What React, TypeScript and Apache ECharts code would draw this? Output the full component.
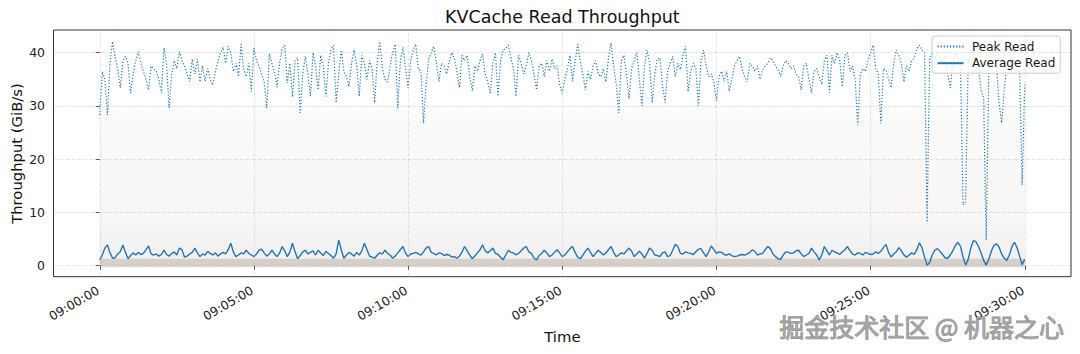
import React, { useEffect, useRef } from "react";
import * as echarts from "echarts";

// ---------------- data ----------------
const START_CLOCK = "09:00:00";
const SAMPLE_STEP_S = 5;

const peakRead = [
  28.3, 36.4, 35, 28.3, 38, 42.1, 39, 37, 33.4, 38.5,
  39.3, 38, 32.4, 36, 38.5, 40.2, 38, 36.5, 35, 33,
  37.5, 37, 36.5, 35, 32.4, 40.9, 38, 29.6, 36, 38.5,
  37, 40.2, 38.5, 37.5, 36, 34.6, 38.8, 36, 38.8, 34.5,
  37.5, 34.6, 37, 35, 33.9, 36.5, 38.5, 40, 41, 38,
  41.2, 40, 36.5, 38, 35.5, 41.6, 37, 35.5, 38, 32.7,
  40.9, 38.5, 37.5, 36, 34.5, 29.6, 39.8, 38, 36.5, 33.5,
  38, 40.8,
  41.4, 34.3, 38, 31.7, 38.5, 39, 28.7, 36, 39.3, 36,
  31.8, 40, 37.5, 33, 39.5, 37.5, 31.8, 38, 40.5, 41.4,
  30.6, 36, 40.5, 36.5, 35.5, 33.6, 38, 40.5, 37.5, 31.8,
  39.5, 38, 35, 38.5, 37, 30.6, 38.5, 42.1, 37, 35,
  34.5, 37.5, 40, 41.6, 29.6, 38.5, 41, 37, 33.4, 38.5,
  40.5, 41.6, 37, 36.5, 26.8, 34, 38.8, 40, 41.2, 38,
  34.6, 38, 37.5, 36, 38.2, 40, 39, 36.5, 33.4, 39.5,
  38.5,
  39.5, 35.5, 32.8, 37.5, 36.5, 38.5, 39.8, 36, 34.5, 32.4,
  38, 40, 31.8, 38.5, 40.5, 40.8, 41.4, 39, 37, 31.8,
  39.5, 38, 36, 37.5, 40, 38.5, 36, 33, 37.5, 38,
  35.5, 38.5, 36.5, 38.8, 37, 37.5, 34, 32.4, 35, 37,
  39.5, 34.6, 38.5, 41.6, 38.5, 36, 33, 36.5, 35, 37.5,
  38.5, 36, 35.5, 37, 34.5, 39, 41.8, 37.5, 34, 28.7,
  38.5, 39.5, 36, 31.4, 37, 38.5, 40, 35, 30, 37.5,
  40.5, 38, 30.6,
  36, 38.8, 39, 34, 30.6, 36.5, 38, 39.3, 35.5, 38,
  36.8, 39.5, 41.2, 32.7, 36.5, 38, 37, 30, 38.5, 40.5,
  37.5, 35.5, 36, 34.5, 31, 35.5, 36.5, 34.6, 36.5, 32.8,
  35, 37.5, 38.5, 39.3, 37, 35.5, 34.5, 38, 37.5, 36.5,
  37.5, 35, 36.8, 37.5, 38, 39, 38.5, 37.5, 36.8, 35.5,
  37.5, 38.5, 38, 37, 37.5, 36, 35.5, 33, 37.5, 38,
  35, 32.5, 36.5, 37, 35.5, 34, 38.5, 39.5, 32.5, 39.5,
  38,
  40, 38.5, 33.6, 39.5, 40, 36.5, 37.5, 35, 26.4, 36,
  37, 36.5, 38.5, 40, 41.4, 37, 36, 26.7, 37, 36.8,
  35, 33.4, 38, 40.5, 39.5, 38, 34.5, 37.5, 36.5, 38.5,
  39, 40.8, 41.4, 40.5, 40, 8.2, 39, 40, 38.5, 40,
  39, 38, 39.5, 36, 33.4, 38, 40, 39, 37.5, 11.4,
  12, 38.5, 40.5, 39.5, 38, 37, 33, 31.5, 4.8, 37,
  38.5, 39, 37.5, 30.6, 26.8, 33, 37.5, 38.5, 39, 38,
  37, 36.5, 15.2, 34,
];

const averageRead = [
  1.1, 2.0, 3.3, 3.9, 2.4, 1.4, 1.5, 2.2, 2.6, 3.9,
  2.5, 1.3, 1.9, 2.4, 2.0, 2.5, 2.1, 2.3, 3.0, 3.7,
  2.2, 2.0, 2.2, 1.8, 2.1, 2.9, 2.1, 1.8, 2.3, 2.6,
  2.0, 3.3, 3.0, 1.6, 1.8, 2.2, 2.5, 3.3, 2.4, 1.7,
  2.2, 2.0, 2.7, 2.3, 2.0, 2.4, 1.8, 2.2, 2.5, 2.2,
  3.0, 4.2, 2.6, 1.7, 2.0, 2.4, 2.2, 2.9, 2.3, 2.0,
  1.7, 2.2, 2.9, 3.1, 2.4, 1.8, 2.2, 2.9, 2.2, 1.7,
  2.4, 3.6, 2.8, 1.7, 2.6, 4.2, 2.6, 1.3, 1.9, 2.6,
  2.9, 2.2, 2.5, 2.8, 2.0, 2.9, 2.4, 1.9, 2.7, 2.3,
  1.9, 1.4, 2.2, 4.8, 3.0, 1.4, 2.0, 2.5, 2.2, 1.8,
  2.5, 2.0, 2.8, 4.2, 3.0, 1.8, 1.6, 1.4, 2.0, 2.4,
  2.2, 2.9, 2.3, 2.0, 1.4, 1.8, 2.4, 3.0, 3.6, 2.4,
  1.7, 2.2, 2.3, 2.5, 2.2, 2.0, 2.6, 3.3, 3.6, 2.5,
  2.3, 2.0, 2.4, 2.3, 1.9, 2.1, 2.0, 1.6, 1.7, 1.4,
  1.8, 2.6, 3.6, 2.8, 2.0, 1.3, 1.8, 2.4, 3.0, 3.9,
  2.8, 2.4, 2.8, 3.3, 2.3, 2.1, 1.6, 1.1, 2.0, 2.9,
  2.5, 2.4, 2.0, 2.3, 2.8, 3.3, 3.6, 2.6, 2.3, 1.4,
  1.1, 1.9, 2.3, 2.9, 2.4, 1.7, 2.0, 2.5, 3.0, 2.4,
  1.7, 2.0, 2.6, 3.2, 3.6, 2.5, 1.6, 1.3, 2.0, 2.7,
  3.3, 2.5, 1.7, 2.3, 2.9, 2.5, 2.0, 2.4, 3.0, 3.6,
  2.5, 1.7, 2.0, 2.4, 2.2, 2.8, 3.3, 2.7, 1.7, 2.2,
  2.7, 2.2, 1.4, 2.3, 3.3, 2.9, 2.0, 1.9, 1.7, 2.4,
  2.6, 1.7, 1.9, 2.9, 4.0, 3.6, 2.3, 2.2, 2.6, 2.4,
  2.3, 2.1, 2.6, 3.1, 3.2, 2.4, 1.7, 2.6, 3.7, 3.0,
  2.3, 2.6, 2.5, 2.1, 2.0, 2.2, 1.9, 1.7, 1.8, 2.0,
  2.1, 2.0, 2.2, 2.5, 3.0, 2.6, 2.0, 2.2, 2.3, 3.0,
  3.6, 3.2, 2.2, 1.7, 1.3, 1.2, 2.0, 2.6, 2.5, 2.3,
  2.4, 2.8, 2.9, 2.2, 1.7, 2.0, 2.3, 3.3, 2.6, 2.0,
  1.1, 2.0, 3.6, 2.8, 2.0, 2.9, 2.6, 2.4, 2.1, 2.6,
  3.0, 3.6, 2.8, 2.2, 2.0, 2.4, 2.3, 2.0, 2.5, 2.3,
  2.1, 2.2, 2.6, 2.3, 2.7, 3.4, 4.0, 2.5, 1.6, 2.2,
  2.6, 3.4, 2.8, 2.0, 1.6, 2.0, 2.4, 2.1, 3.0, 4.3,
  3.4, 1.6, 0.1, 0.6, 2.0, 2.9, 3.2, 2.7, 2.1, 1.5,
  1.4, 2.0, 2.8, 3.8, 4.4, 3.6, 1.6, 0.1, 1.2, 3.3,
  4.7, 4.5, 3.6, 2.4, 1.0, 0.1, 1.2, 2.7, 3.8, 4.1,
  3.5, 2.2, 1.4, 1.0, 2.0, 3.5, 4.4, 3.4, 1.8, 0.2,
  1.2,
];

const xTickLabels = ["09:00:00", "09:05:00", "09:10:00", "09:15:00", "09:20:00", "09:25:00", "09:30:00"];
const yTicks = [0, 10, 20, 30, 40];
// range of the raw per-request sample cloud drawn behind the lines (GiB/s)
const sampleCloudRange = [0, 31];
const sampleFloorBand = [-0.3, 1.3];

// ---------------- helpers ----------------
const clockToSec = (s: string) => {
  const [h, m, x] = s.split(":").map(Number);
  return h * 3600 + m * 60 + x;
};
const pad2 = (n: number) => String(n).padStart(2, "0");
const secToClock = (v: number) => {
  const t = Math.round(v);
  return `${pad2(Math.floor(t / 3600))}:${pad2(Math.floor((t % 3600) / 60))}:${pad2(t % 60)}`;
};
const T0 = clockToSec(START_CLOCK);
const xTicks = xTickLabels.map((s) => clockToSec(s) - T0);
const lastSec = (peakRead.length - 1) * SAMPLE_STEP_S;
const xPad = lastSec * 0.05;

const FONT = "DejaVu Sans";
const BLUE = "#1f77b4";

export default function App() {
  const ref = useRef<HTMLDivElement>(null);

  useEffect(() => {
    if (!ref.current) return;
    const chart = echarts.init(ref.current, null, { renderer: "svg" });

    const peakData = peakRead.map((v, i) => [i * SAMPLE_STEP_S, v]);
    const avgData = averageRead.map((v, i) => [i * SAMPLE_STEP_S, v]);

    const gridLineStyle = { color: "rgba(170,170,170,0.4)", width: 0.8, type: [4, 2] as any };

    chart.setOption({
      animation: false,
      backgroundColor: "#ffffff",
      textStyle: { fontFamily: FONT },
      grid: {
        left: 53.5,
        right: 9,
        top: 30,
        bottom: 77.3,
        show: true,
        borderColor: "#333333",
        borderWidth: 1,
        backgroundColor: "transparent",
        containLabel: false,
      },
      xAxis: {
        type: "value",
        min: -xPad,
        max: lastSec + xPad,
        axisLine: { show: false },
        splitLine: { show: false },
        axisTick: {
          show: true,
          length: 4,
          lineStyle: { color: "#333333", width: 1 },
          customValues: xTicks,
        },
        axisLabel: {
          customValues: xTicks,
          formatter: (v: number) => secToClock(T0 + v),
          rotate: 30,
          margin: 11.5,
          padding: [0, 2, 0, 0],
          fontFamily: FONT,
          fontSize: 12.4,
          color: "#222222",
        },
      },
      yAxis: {
        type: "value",
        min: -2.07,
        max: 44.26,
        axisLine: { show: false },
        splitLine: { show: false },
        axisTick: {
          show: true,
          length: 4,
          lineStyle: { color: "#333333", width: 1 },
          customValues: yTicks,
        },
        axisLabel: {
          customValues: yTicks,
          margin: 8.5,
          fontFamily: FONT,
          fontSize: 12.4,
          color: "#222222",
        },
      },
      legend: {
        data: ["Peak Read", "Average Read"],
        orient: "vertical",
        left: 932,
        top: 36,
        padding: [4.5, 5, 4, 4.5],
        itemWidth: 26,
        itemHeight: 14,
        itemGap: 4.7,
        backgroundColor: "rgba(255,255,255,0.8)",
        borderColor: "#cccccc",
        borderWidth: 1,
        borderRadius: 3,
        itemStyle: { opacity: 0, borderWidth: 0 },
        textStyle: { fontFamily: FONT, fontSize: 12, color: "#1a1a1a", padding: [0, 0, 0, 3.5] },
      },
      series: [
        {
          name: "samples",
          type: "line",
          data: [],
          silent: true,
          z: 1,
          markArea: {
            silent: true,
            data: [
              [
                {
                  xAxis: 0,
                  yAxis: sampleCloudRange[1],
                  itemStyle: {
                    color: new echarts.graphic.LinearGradient(0, 0, 0, 1, [
                      { offset: 0, color: "rgba(160,150,140,0.0)" },
                      { offset: 0.12, color: "rgba(160,150,140,0.05)" },
                      { offset: 0.7, color: "rgba(160,150,140,0.08)" },
                      { offset: 1, color: "rgba(160,150,140,0.15)" },
                    ]),
                  },
                },
                { xAxis: lastSec, yAxis: sampleCloudRange[0] },
              ],
              [
                {
                  xAxis: 0,
                  yAxis: sampleFloorBand[1],
                  itemStyle: { color: "rgba(170,155,140,0.38)" },
                },
                { xAxis: lastSec, yAxis: sampleFloorBand[0] },
              ],
            ],
          },
          markLine: {
            silent: true,
            symbol: "none",
            label: { show: false },
            lineStyle: gridLineStyle,
            data: [
              ...xTicks.map((v) => ({ xAxis: v })),
              ...yTicks.map((v) => ({ yAxis: v })),
            ],
          },
        },
        {
          name: "Peak Read",
          type: "line",
          data: peakData,
          symbol: "none",
          showSymbol: false,
          z: 3,
          lineStyle: { color: BLUE, width: 1.2, type: [1.2, 1.9] },
          itemStyle: { color: BLUE },
        },
        {
          name: "Average Read",
          type: "line",
          data: avgData,
          symbol: "none",
          showSymbol: false,
          z: 4,
          lineStyle: { color: BLUE, width: 1.4, type: "solid" },
          itemStyle: { color: BLUE },
        },
      ],
      graphic: [
        {
          type: "text",
          x: 562.4,
          y: 16.6,
          style: {
            text: "KVCache Read Throughput",
            fontFamily: FONT,
            fontSize: 17.5,
            fill: "#111111",
            align: "center",
            verticalAlign: "middle",
          },
        },
        {
          type: "text",
          x: 16,
          y: 153.5,
          rotation: Math.PI / 2,
          style: {
            text: "Throughput (GiB/s)",
            fontFamily: FONT,
            fontSize: 14.8,
            fill: "#111111",
            align: "center",
            verticalAlign: "middle",
          },
        },
        {
          type: "text",
          x: 562.4,
          y: 336.8,
          style: {
            text: "Time",
            fontFamily: FONT,
            fontSize: 14.8,
            fill: "#111111",
            align: "center",
            verticalAlign: "middle",
          },
        },
        {
          type: "text",
          x: 1064,
          y: 326,
          z: 100,
          style: {
            text: "掘金技术社区 @ 机器之心",
            fontFamily: '"Noto Sans CJK SC", sans-serif',
            fontSize: 25,
            fill: "#a4a4a4",
            stroke: "rgba(70,70,70,0.65)",
            lineWidth: 0.9,
            align: "right",
            verticalAlign: "middle",
          },
        },
      ],
    });

    return () => chart.dispose();
  }, []);

  return (
    <div
      ref={ref}
      style={{ position: "absolute", left: 0, top: 0, width: 1080, height: 354 }}
    />
  );
}
